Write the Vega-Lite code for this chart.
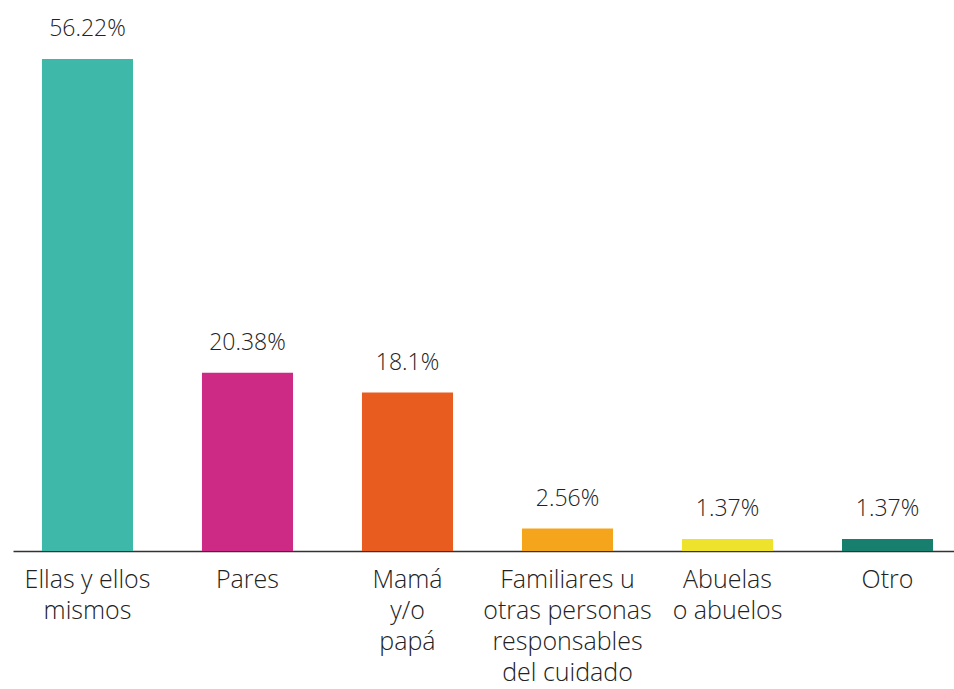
{
  "$schema": "https://vega.github.io/schema/vega-lite/v6.json",
  "autosize": {"type": "none"},
  "padding": {"left": 13, "top": 10, "right": 0, "bottom": 138},
  "width": 941,
  "height": 541,
  "background": "white",
  "config": {"view": {"stroke": null}},
  "data": {
    "values": [
      {"grupo": "Ellas y ellos|mismos", "valor": 56.22},
      {"grupo": "Pares", "valor": 20.38},
      {"grupo": "Mamá|y/o|papá", "valor": 18.1},
      {"grupo": "Familiares u|otras personas|responsables|del cuidado", "valor": 2.56},
      {"grupo": "Abuelas|o abuelos", "valor": 1.37},
      {"grupo": "Otro", "valor": 1.37}
    ]
  },
  "transform": [{"calculate": "datum.valor + '%'", "as": "etiqueta"}],
  "encoding": {
    "x": {
      "field": "grupo",
      "type": "nominal",
      "sort": null,
      "scale": {"paddingInner": 0.431, "paddingOuter": 0.156, "align": 0.58},
      "axis": {
        "title": null,
        "labelAngle": 0,
        "labelExpr": "split(datum.label, '|')",
        "labelFont": "Open Sans",
        "labelFontWeight": 300,
        "labelFontSize": 25,
        "labelColor": "#222222",
        "labelLineHeight": 31,
        "labelPadding": 16,
        "labelBaseline": "top",
        "labelLimit": 400,
        "ticks": false,
        "domainColor": "#333333",
        "domainWidth": 1.5
      }
    },
    "y": {
      "field": "valor",
      "type": "quantitative",
      "scale": {"domain": [0, 61.82], "nice": false, "zero": true},
      "axis": null
    }
  },
  "layer": [
    {
      "mark": {"type": "bar"},
      "encoding": {
        "color": {
          "field": "grupo",
          "type": "nominal",
          "sort": null,
          "scale": {"range": ["#3db8a9", "#cc2a84", "#e95c20", "#f5a51b", "#efe22c", "#187f6f"]},
          "legend": null
        }
      }
    },
    {
      "mark": {"type": "text", "baseline": "alphabetic", "dy": -23, "font": "Open Sans", "fontWeight": 300, "fontSize": 23, "color": "#222222"},
      "encoding": {"text": {"field": "etiqueta"}}
    }
  ]
}
